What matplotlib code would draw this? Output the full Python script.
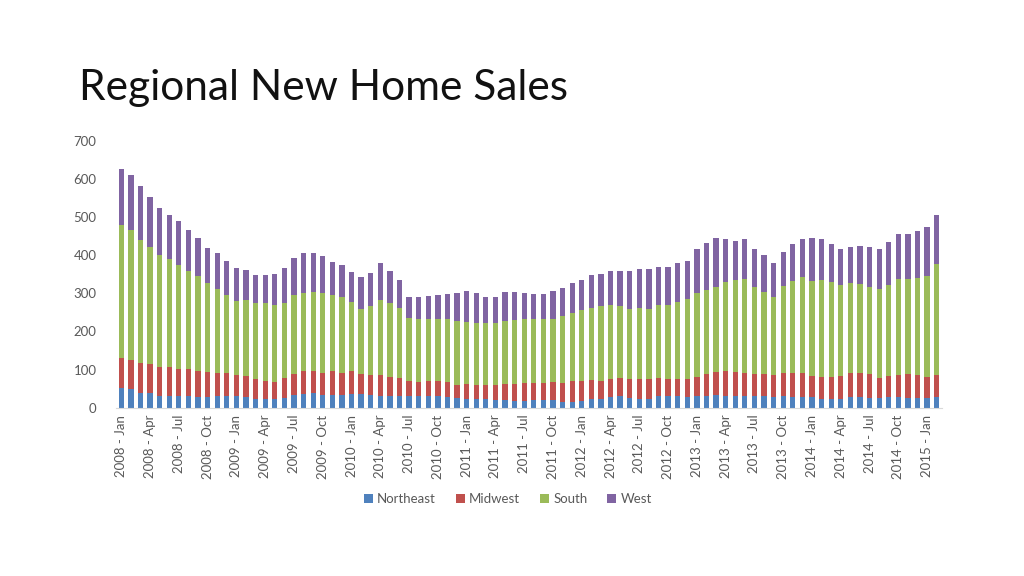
import numpy as np
import matplotlib.pyplot as plt

# Monthly regional new home sales, Jan 2008 - Feb 2015 (thousands, SAAR)
months = ['Jan', 'Feb', 'Mar', 'Apr', 'May', 'Jun',
          'Jul', 'Aug', 'Sep', 'Oct', 'Nov', 'Dec']
labels = ['%d - %s' % (2008 + i // 12, months[i % 12]) for i in range(86)]

# Cumulative tops
top_ne = [52, 48, 39, 38, 32, 32, 32, 32, 29, 29, 31, 32,
          31, 29, 24, 24, 22, 25, 33, 35, 38, 33, 33, 33,
          35, 35, 33, 31, 31, 31, 31, 31, 31, 31, 29, 26,
          24, 22, 22, 20, 20, 18, 18, 20, 20, 20, 16, 16,
          18, 22, 24, 29, 31, 26, 24, 24, 31, 31, 32, 29,
          31, 31, 33, 31, 31, 31, 31, 31, 29, 31, 29, 29,
          29, 24, 24, 24, 29, 29, 26, 26, 29, 29, 26, 26,
          26, 29]
top_mw = [131, 125, 116, 115, 108, 108, 102, 101, 97, 94, 92, 92,
          86, 83, 76, 71, 67, 77, 88, 95, 97, 92, 97, 92,
          97, 88, 86, 86, 81, 77, 71, 68, 71, 71, 68, 60,
          62, 59, 60, 59, 62, 62, 64, 66, 66, 68, 66, 71,
          71, 74, 71, 76, 77, 76, 76, 76, 79, 76, 76, 76,
          80, 88, 94, 96, 94, 91, 88, 88, 85, 90, 90, 90,
          83, 81, 80, 83, 92, 92, 89, 77, 83, 86, 88, 86,
          80, 86]
top_so = [480, 466, 440, 421, 402, 389, 375, 360, 346, 327, 312, 297,
          281, 283, 276, 275, 269, 276, 295, 302, 304, 300, 296, 290,
          277, 260, 267, 283, 275, 262, 235, 233, 233, 234, 234, 228,
          224, 222, 221, 221, 227, 230, 233, 234, 234, 234, 241, 248,
          256, 262, 268, 269, 267, 260, 262, 258, 269, 269, 278, 285,
          302, 308, 318, 329, 335, 339, 317, 304, 291, 320, 333, 343,
          333, 335, 329, 323, 326, 325, 318, 312, 323, 339, 338, 341,
          346, 378]
top_we = [626, 612, 583, 554, 524, 507, 489, 466, 446, 419, 405, 386,
          367, 361, 348, 348, 351, 367, 392, 407, 405, 398, 383, 374,
          356, 344, 353, 379, 360, 335, 290, 290, 294, 297, 298, 300,
          306, 300, 291, 291, 304, 304, 300, 298, 298, 306, 315, 327,
          335, 348, 350, 359, 359, 360, 365, 363, 370, 370, 379, 386,
          417, 431, 446, 444, 438, 444, 417, 400, 381, 409, 430, 444,
          446, 442, 430, 416, 423, 425, 421, 417, 434, 457, 457, 464,
          473, 507]

northeast = np.array(top_ne)
midwest = np.array(top_mw) - np.array(top_ne)
south = np.array(top_so) - np.array(top_mw)
west = np.array(top_we) - np.array(top_so)

series = [('Northeast', northeast, '#4F81BD'),
          ('Midwest', midwest, '#C0504D'),
          ('South', south, '#9BBB59'),
          ('West', west, '#8064A2')]

plt.rcParams['font.family'] = ['Lato', 'DejaVu Sans']

fig = plt.figure(figsize=(10.24, 5.76), dpi=100)
ax = fig.add_axes([0.1133, 0.2922, 0.8066, 0.463])

x = np.arange(len(labels))
bottom = np.zeros(len(labels))
for name, vals, color in series:
    ax.bar(x, vals, bottom=bottom, width=0.55, color=color, label=name)
    bottom = bottom + vals

ax.set_xlim(-0.55, len(labels) - 0.45)
ax.set_ylim(0, 700)
ax.set_yticks(range(0, 701, 100))
ax.set_xticks(x[::3])
ax.set_xticklabels(labels[::3], rotation=90)
ax.tick_params(axis='both', length=0, labelsize=9.5, colors='#595959')
ax.tick_params(axis='y', pad=14)
ax.tick_params(axis='x', pad=5)
for s in ['top', 'right', 'left']:
    ax.spines[s].set_visible(False)
ax.spines['bottom'].set_color('#D9D9D9')

fig.legend(loc='center', bbox_to_anchor=(0.496, 0.133), ncol=4, frameon=False,
           fontsize=9.5, handlelength=0.7, handleheight=0.7,
           handletextpad=0.3, columnspacing=1.5, labelcolor='#595959')

fig.text(0.077, 0.826, 'Regional New Home Sales', fontsize=30.5,
         fontweight='normal', color='#111111', va='baseline')

plt.savefig('out.png', dpi=100, facecolor='white')
